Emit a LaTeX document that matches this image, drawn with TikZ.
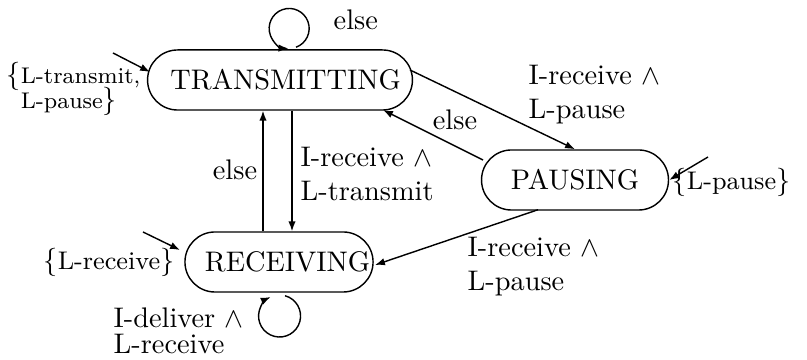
\documentclass[tikz,border=0pt]{standalone}
\usepackage{tikz}
\usetikzlibrary{calc}
\usetikzlibrary{arrows.meta}
\usepackage{amsmath}
\begin{document}
\begin{tikzpicture}[x=0.353pt, y=0.353pt, line width=0.5pt, >={Latex[length=3.5pt,width=2.6pt]},
    main/.style = {draw, rectangle, rounded corners=10.6pt, minimum height=21.2pt, inner sep=0pt},
    lbl/.style = {align=left, inner sep=0pt},
    init/.style = {align=left, inner sep=0pt, font=\small}]
            \useasboundingbox (0,0) rectangle (807,360);
            \node[main, minimum width=93.5pt] (1) at (280,280) {\hspace{4pt}TRANSMITTING};
            \node[main, minimum width=66pt] (2) at (575,180) {PAUSING};
            \node[main, minimum width=66.4pt] (3) at (279,98) {\hspace{6pt}RECEIVING};
            \coordinate (4) at (113,307);
            \coordinate (5) at (708,203);
            \coordinate (6) at (143,128);
            \draw[->] (4) to ($(1.center)+(-130,8)$);
            \draw[->] (5) to (2.east);
            \draw[->] (6) to ($(3.center)+(-99,12)$);
            \draw[->] ($(1.north)+(16,2)$) arc[start angle=-70, end angle=268, radius=20];
            \draw[->] ($(3.south)+(6,-3)$) arc[start angle=75, end angle=-245, radius=21];
            \draw[->] ($(1.center)+(130,10)$) to (2.north);
            \draw[->] ($(2.center)+(-92,20)$) to ($(1.center)+(103,-30)$);
            \draw[->] ($(1.south)+(12,0)$) to ($(3.north)+(13,0)$);
            \draw[->] ($(3.north)+(-16,0)$) to ($(1.south)+(-17,0)$);
            \draw[->] ($(2.south)+(-37,1)$) to ($(3.center)+(96,-3)$);
            \node[lbl, anchor=west] (7) at (333,340) {else};
            \node[init, anchor=west] (8) at (6,271) {\normalsize$\{$\footnotesize L-transmit,\\[-2pt]\phantom{\normalsize$\{$}\footnotesize L-pause\normalsize$\}$};
            \node[init, anchor=west] (9) at (672,178) {\normalsize$\{$\small L-pause\normalsize$\}$};
            \node[init, anchor=east] (10) at (175,98) {\normalsize$\{$\small L-receive\normalsize$\}$};
            \node[lbl, anchor=west] (11) at (528,265) {I-receive $\wedge$\\L-pause};
            \node[lbl] (12) at (455,240) {else};
            \node[lbl, anchor=west] (13) at (300,186) {I-receive $\wedge$\\L-transmit};
            \node[lbl] (14) at (235,190) {else};
            \node[lbl, anchor=west] (15) at (467,93) {I-receive $\wedge$\\L-pause};
            \node[lbl, anchor=west] (16) at (113,29) {I-deliver $\wedge$\\[-3pt]L-receive};
        \end{tikzpicture}
\end{document}
